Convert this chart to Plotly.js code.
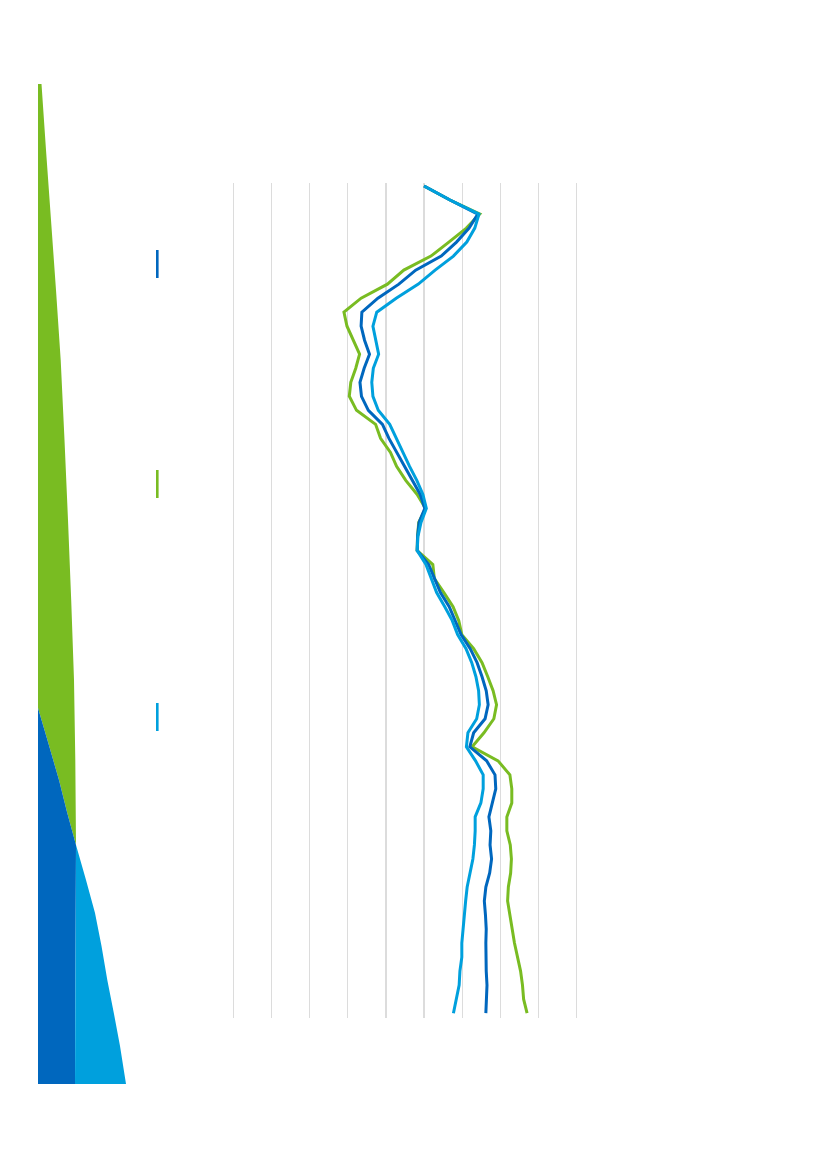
<!DOCTYPE html>
<html>
<head>
<meta charset="utf-8">
<script src="https://cdn.plot.ly/plotly-3.0.1.min.js"></script>
<style>
  html, body { margin: 0; padding: 0; background: #ffffff; }
  #chart { width: 827px; height: 1169px; }
</style>
</head>
<body>
<div id="chart"></div>
<script>
// rows run top to bottom, the chart is drawn turned on its side
var rows = [0, 1, 2, 3, 4, 5, 6, 7, 8, 9, 10, 11, 12, 13, 14, 15, 16, 17, 18, 19,
            20, 21, 22, 23, 24, 25, 26, 27, 28, 29, 30, 31, 32, 33, 34, 35, 36, 37, 38, 39,
            40, 41, 42, 43, 44, 45, 46, 47, 48, 49, 50, 51, 52, 53, 54, 55, 56, 57, 58, 59];

var greenSeries = [50.0, 56.8, 64.6, 61.1, 56.5, 51.8, 44.7, 40.4, 33.5, 29.0,
                   29.8, 31.4, 33.1, 32.1, 30.8, 30.4, 32.3, 37.3, 38.6, 41.2,
                   42.8, 45.2, 48.2, 50.4, 48.6, 48.3, 48.2, 52.3, 52.7, 55.2,
                   57.6, 59.1, 59.9, 63.0, 65.2, 66.7, 68.1, 69.0, 68.3, 65.7,
                   62.6, 69.4, 72.5, 73.0, 73.0, 71.7, 71.7, 72.6, 72.9, 72.7,
                   72.1, 71.9, 72.6, 73.1, 73.7, 74.5, 75.3, 75.8, 76.1, 77.0];

var darkSeries = [50.0, 56.8, 64.1, 61.8, 58.5, 54.5, 47.8, 43.4, 37.9, 33.7,
                  33.5, 34.4, 35.7, 34.3, 33.2, 33.6, 35.4, 39.1, 40.8, 42.8,
                  44.8, 46.9, 49.0, 50.2, 48.7, 48.3, 48.2, 51.2, 52.7, 54.3,
                  56.6, 58.1, 59.7, 62.1, 63.9, 65.2, 66.3, 66.8, 66.0, 63.0,
                  62.0, 66.4, 68.6, 68.8, 67.8, 67.0, 67.5, 67.3, 67.7, 67.2,
                  66.2, 65.8, 66.1, 66.3, 66.2, 66.2, 66.3, 66.5, 66.3, 66.2];

var lightSeries = [50.0, 56.8, 64.4, 63.3, 61.2, 57.7, 52.9, 48.5, 42.7, 37.6,
                   36.6, 37.3, 38.1, 36.7, 36.3, 36.6, 38.0, 41.0, 42.7, 44.4,
                   46.2, 48.1, 49.7, 50.6, 49.2, 48.4, 48.2, 50.5, 51.8, 53.3,
                   55.4, 57.4, 58.8, 61.0, 62.5, 63.6, 64.3, 64.5, 63.8, 61.5,
                   61.1, 63.5, 65.5, 65.5, 64.9, 63.4, 63.4, 63.2, 62.8, 62.0,
                   61.3, 60.9, 60.6, 60.2, 59.9, 59.9, 59.4, 59.2, 58.4, 57.7];

var GREEN = '#79BC22', DARK = '#0067BE', LIGHT = '#00A0DD';

// plot box in page pixels
var L = 230, W = 350, T = 183, H = 835;
function px(x) { return (x - L) / W; }
function py(y) { return (T + H - y) / H; }
function path(pts) {
    return 'M ' + pts.map(function (p) { return px(p[0]) + ',' + py(p[1]); }).join(' L ') + ' Z';
}

function series(vals, color) {
    return {
        x: vals, y: rows,
        type: 'scatter', mode: 'lines',
        line: {color: color, width: 3},
        hoverinfo: 'skip',
        showlegend: false
    };
}

var data = [series(greenSeries, GREEN), series(darkSeries, DARK), series(lightSeries, LIGHT)];

// side band of the page and the turned legend keys
var shapes = [
    {type: 'path', xref: 'paper', yref: 'paper', layer: 'below', line: {width: 0}, fillcolor: GREEN,
     path: path([[38, 84], [41.5, 84], [46, 150], [51, 220], [56, 290], [60.7, 360], [64.5, 440],
                 [68, 520], [71.2, 600], [74, 680], [75.3, 760], [76, 845], [67, 812], [59, 780], [48, 742], [38, 708]])},
    {type: 'path', xref: 'paper', yref: 'paper', layer: 'below', line: {width: 0}, fillcolor: DARK,
     path: path([[38, 708], [48, 742], [59, 780], [67, 812], [76, 845], [75, 1084], [38, 1084]])},
    {type: 'path', xref: 'paper', yref: 'paper', layer: 'below', line: {width: 0}, fillcolor: LIGHT,
     path: path([[76, 845], [86, 880], [95, 913], [101.5, 946], [107.3, 980], [114, 1014], [120, 1046], [126, 1084], [75, 1084]])}
];
var keys = [[250, DARK], [470, GREEN], [703, LIGHT]];
keys.forEach(function (k) {
    shapes.push({type: 'line', xref: 'paper', yref: 'paper',
                 x0: px(157.3), x1: px(157.3), y0: py(k[0]), y1: py(k[0] + 28),
                 line: {color: k[1], width: 2.6}});
});

var layout = {
    width: 827, height: 1169,
    margin: {l: L, r: 827 - L - W, t: T, b: 1169 - T - H},
    paper_bgcolor: '#ffffff', plot_bgcolor: '#ffffff',
    xaxis: {range: [-(233.3 - L) / 3.815, -(233.3 - L) / 3.815 + W / 3.815],
            tick0: 0, dtick: 10, showgrid: true, gridcolor: '#dcdcdc', gridwidth: 1.3,
            zeroline: false, showline: false, showticklabels: false, ticks: ''},
    yaxis: {range: [(T + H - 186) / 14.02, (T - 186) / 14.02],
            showgrid: false, zeroline: false, showline: false, showticklabels: false, ticks: ''},
    shapes: shapes
};

Plotly.newPlot('chart', data, layout, {staticPlot: true, displayModeBar: false});
</script>
</body>
</html>
